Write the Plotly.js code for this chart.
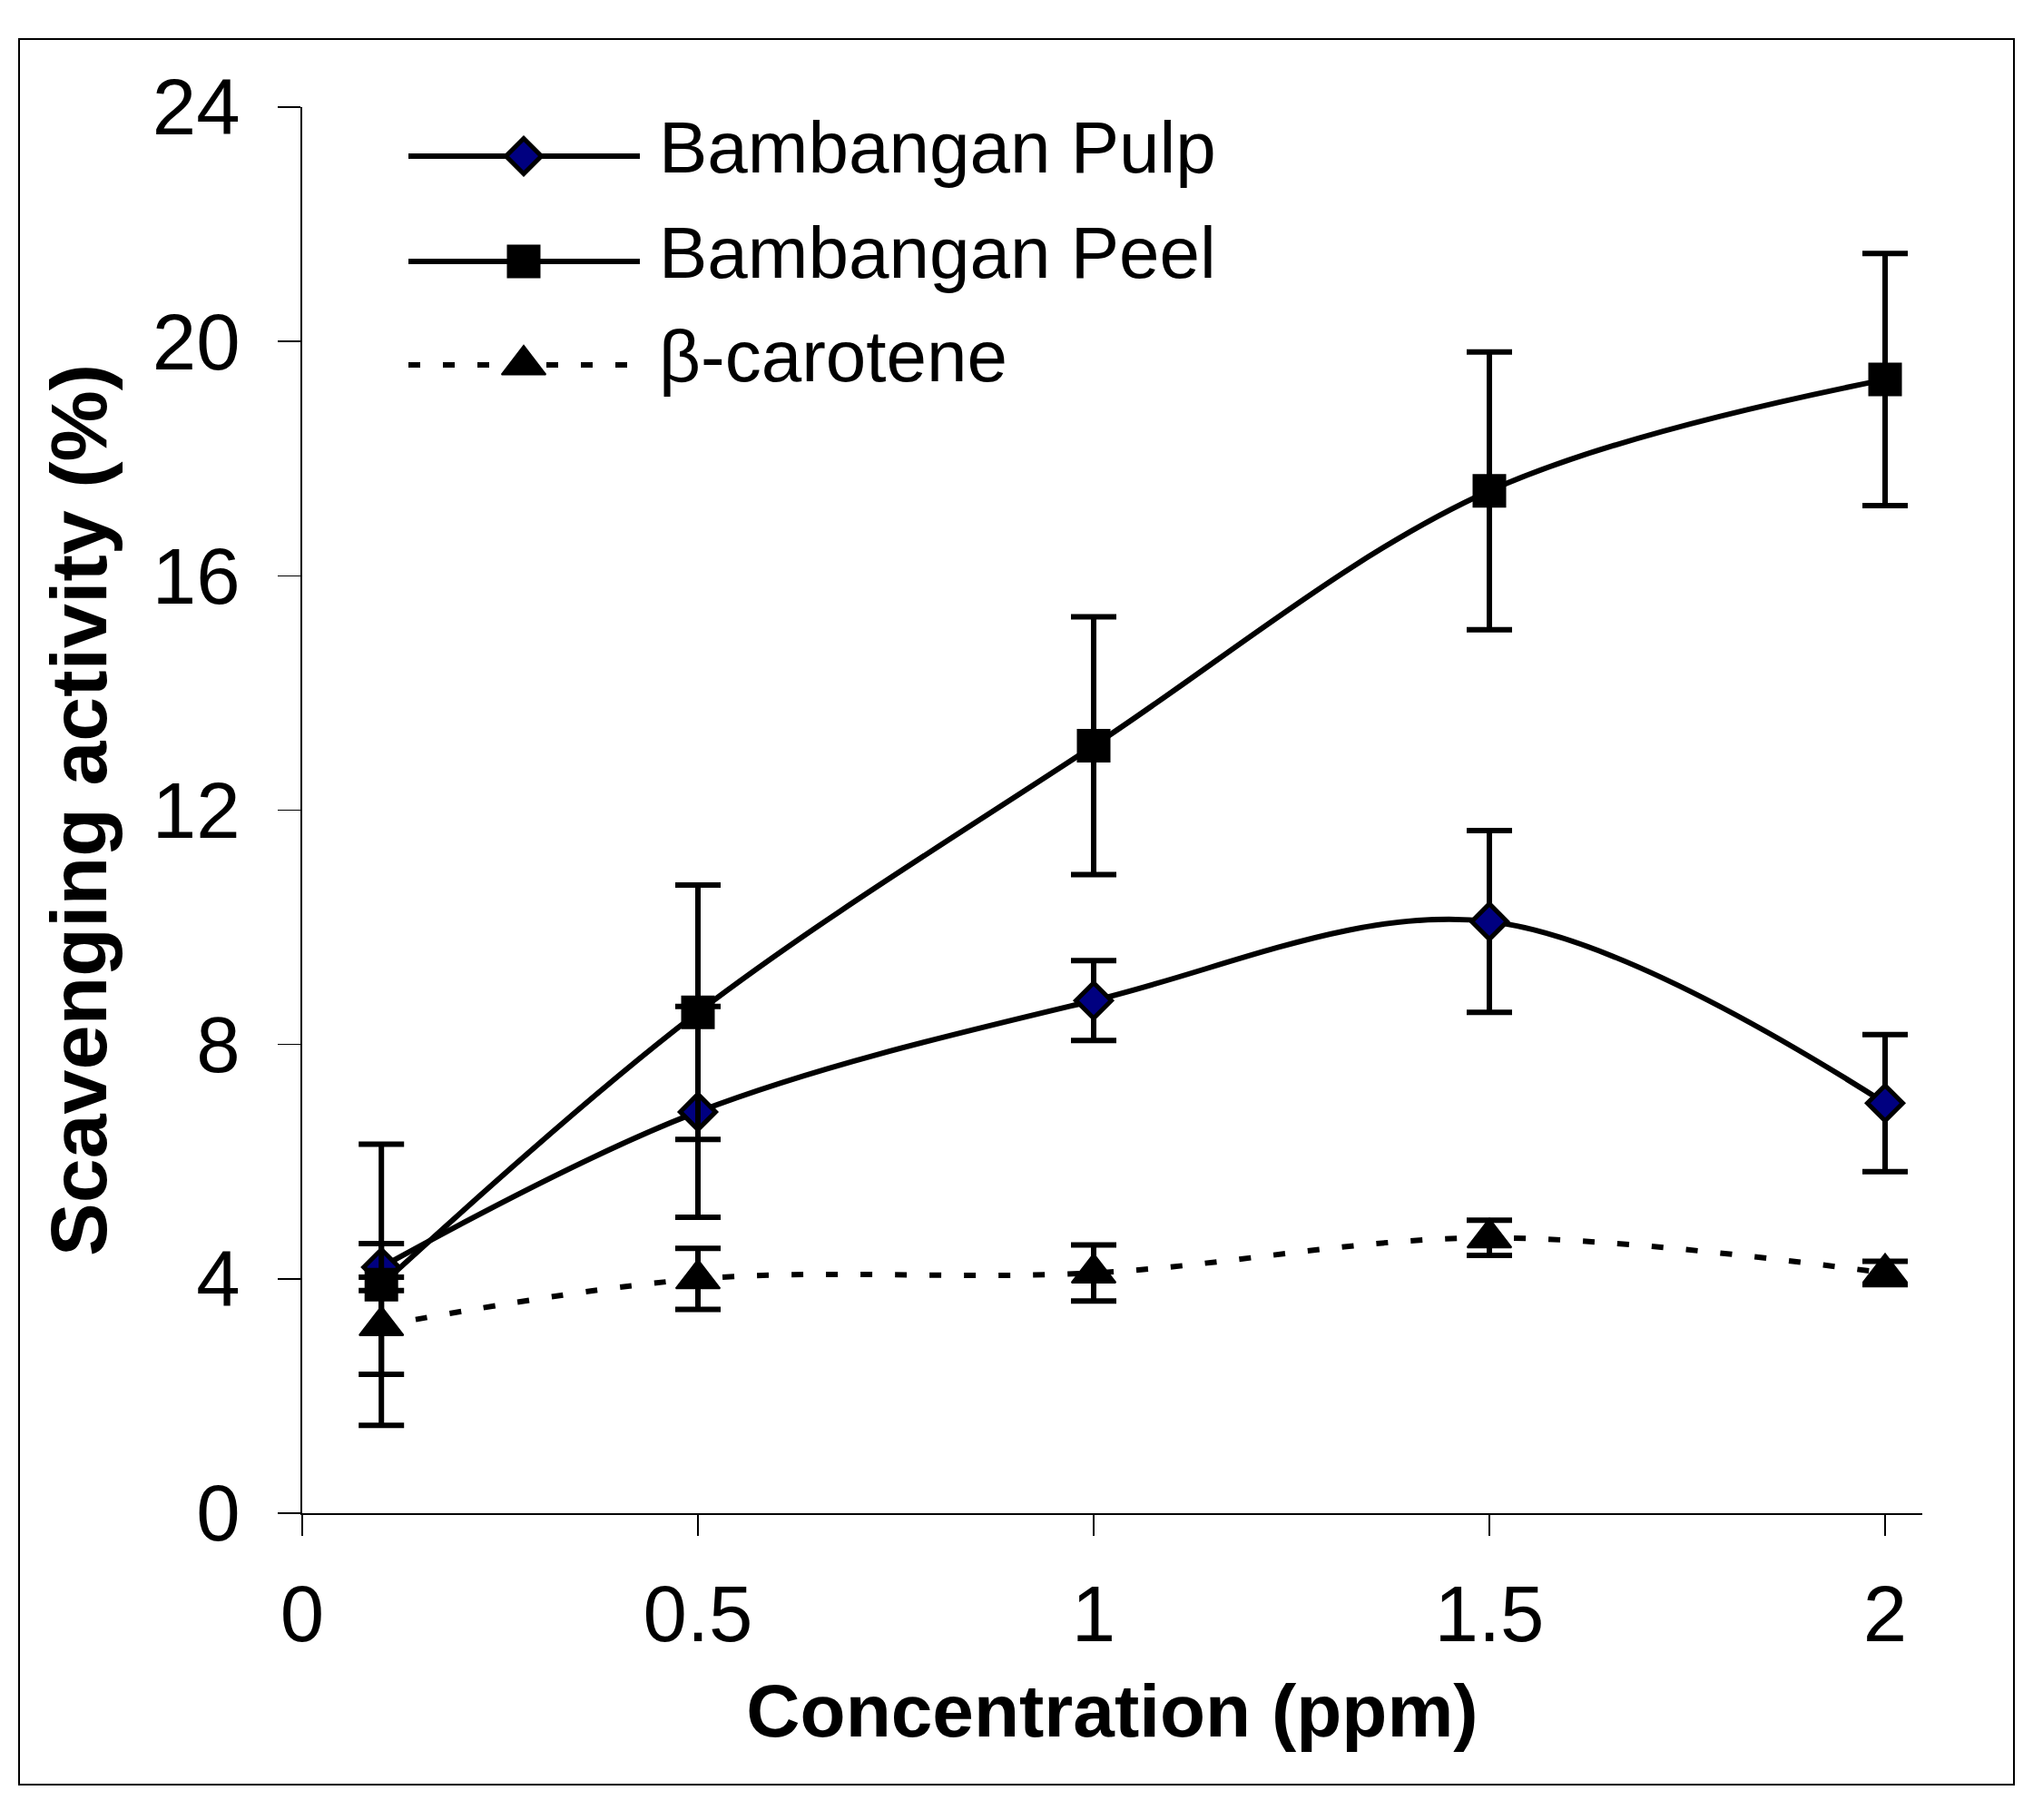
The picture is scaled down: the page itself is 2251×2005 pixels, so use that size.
<!DOCTYPE html>
<html>
<head>
<meta charset="utf-8">
<script src="https://cdn.plot.ly/plotly-3.0.1.min.js"></script>
<style>
  html, body { margin: 0; padding: 0; background: #fff; }
</style>
</head>
<body>
<div id="chart"></div>
<script>
// concentrations (ppm) and mean scavenging activity (%) with error bars
const concentration = [0.1, 0.5, 1, 1.5, 2];
const pulp = [4.2, 6.85, 8.75, 10.1, 7.0];
const pulpErr = [0.4, 1.8, 0.68, 1.55, 1.17];
const peel = [3.9, 8.55, 13.1, 17.45, 19.35];
const peelErr = [2.4, 2.17, 2.2, 2.37, 2.15];
const carotene = [3.2, 4.0, 4.1, 4.7, 4.1];
const caroteneErr = [0.83, 0.52, 0.48, 0.3, 0.2];
const seriesNames = ['Bambangan Pulp', 'Bambangan Peel', 'β-carotene'];
const xTicks = [0, 0.5, 1, 1.5, 2];
const xTickText = ['0', '0.5', '1', '1.5', '2'];
const yTicks = [0, 4, 8, 12, 16, 20, 24];

const W = 2251, H = 2005;
const M = { l: 333, r: 133, t: 118, b: 338 };
const FONT = 'Liberation Sans, Arial, sans-serif';

const markers = [
    { symbol: 'diamond', size: 30, color: '#000080', line: { color: '#000', width: 5 } },
    { symbol: 'square', size: 35, color: '#000', line: { color: '#000', width: 2 } },
    { symbol: 'triangle-up', size: 42, color: '#000', line: { color: '#000', width: 2 } },
];
const lines = [
    { color: '#000', width: 6, shape: 'spline' },
    { color: '#000', width: 6, shape: 'spline' },
    { color: '#000', width: 6, shape: 'spline', dash: '13px,25px' },
];
const values = [pulp, peel, carotene];
const errors = [pulpErr, peelErr, caroteneErr];

const data = values.map((v, i) => ({
    x: concentration,
    y: v,
    name: seriesNames[i],
    mode: 'lines+markers',
    type: 'scatter',
    line: lines[i],
    marker: markers[i],
    error_y: { type: 'data', array: errors[i], visible: true, color: '#000', thickness: 6, width: 25 },
    cliponaxis: false,
}));

// hand-made legend, laid out in image pixels on an overlay axis pair
const legendRows = [172, 288, 402];
const legendLine = [450, 577, 705];
seriesNames.forEach((name, i) => {
    data.push({
        x: legendLine,
        y: legendRows.map(() => legendRows[i]),
        xaxis: 'x2',
        yaxis: 'y2',
        mode: 'lines+markers',
        type: 'scatter',
        line: Object.assign({}, lines[i], { shape: 'linear' }),
        marker: Object.assign({}, markers[i], { opacity: [0, 1, 0] }),
        hoverinfo: 'skip',
        showlegend: false,
    });
});

const px2paperX = px => (px - M.l) / (W - M.l - M.r);
const px2paperY = py => (H - M.b - py) / (H - M.t - M.b);

const axisCommon = {
    showline: true,
    linecolor: '#000',
    linewidth: 2,
    ticks: 'outside',
    tickcolor: '#000',
    tickwidth: 1.5,
    showgrid: false,
    zeroline: false,
    tickfont: { family: FONT, size: 87, color: '#000' },
};

const layout = {
    width: W,
    height: H,
    margin: Object.assign({ pad: 0 }, M),
    paper_bgcolor: '#fff',
    plot_bgcolor: '#fff',
    showlegend: false,
    font: { family: FONT, color: '#000' },
    xaxis: Object.assign({}, axisCommon, {
        range: [0, 2.047],
        tickmode: 'array',
        tickvals: xTicks,
        ticktext: xTickText,
        ticklen: 23,
        ticklabelstandoff: 12,
        title: { text: '<b>Concentration (ppm)</b>', font: { family: FONT, size: 82 }, standoff: 30 },
    }),
    yaxis: Object.assign({}, axisCommon, {
        range: [0, 24],
        tickmode: 'array',
        tickvals: yTicks,
        ticklen: 25,
        ticklabelstandoff: 24,
        title: { text: '<b>Scavenging activity (%)</b>', font: { family: FONT, size: 88 }, standoff: 21 },
    }),
    xaxis2: { overlaying: 'x', range: [M.l, W - M.r], visible: false, fixedrange: true },
    yaxis2: { overlaying: 'y', range: [H - M.b, M.t], visible: false, fixedrange: true },
    annotations: seriesNames.map((name, i) => ({
        text: name,
        xref: 'x2', yref: 'y2',
        x: 724, y: legendRows[i] - 10,
        xanchor: 'left', yanchor: 'middle',
        showarrow: false,
        font: { family: FONT, size: 80, color: '#000' },
    })),
    shapes: [{
        type: 'rect', xref: 'paper', yref: 'paper',
        x0: px2paperX(21), x1: px2paperX(2219),
        y0: px2paperY(1966), y1: px2paperY(43),
        line: { color: '#000', width: 2 },
    }],
};

Plotly.newPlot('chart', data, layout, { displayModeBar: false, staticPlot: true });
</script>
</body>
</html>
